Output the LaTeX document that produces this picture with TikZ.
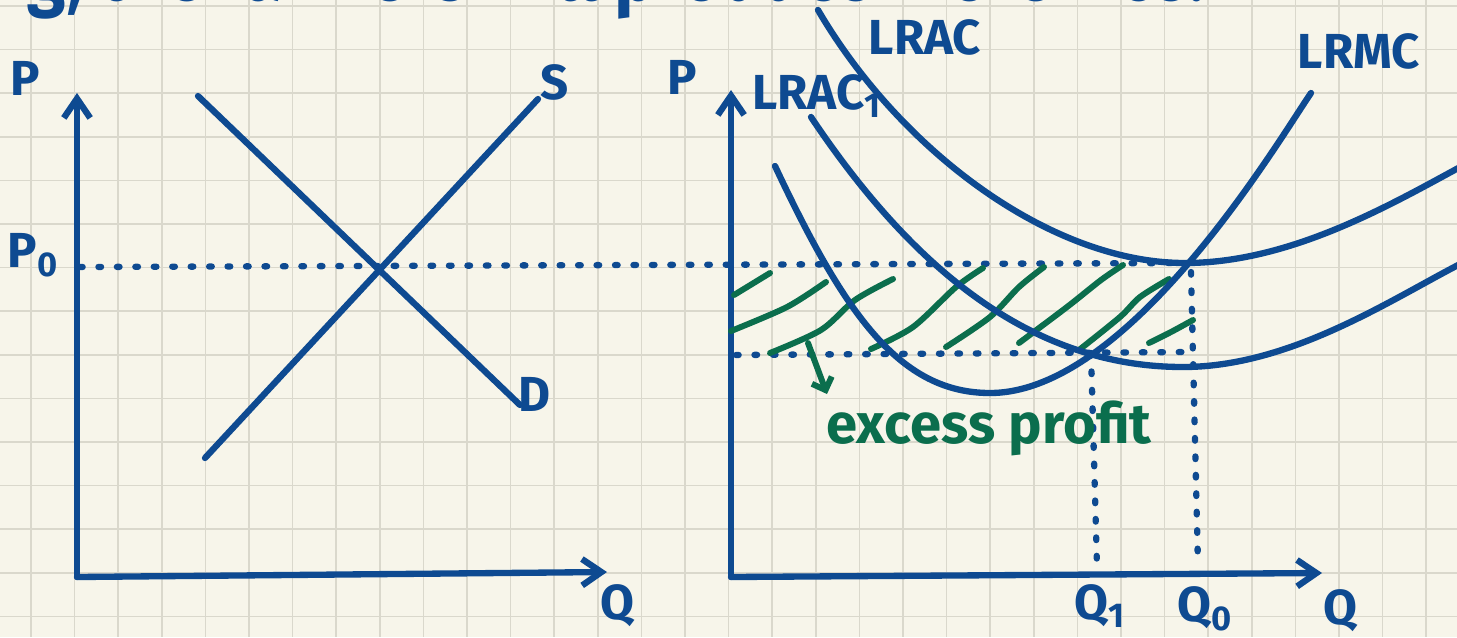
\documentclass[tikz,border=0pt]{standalone}
\usepackage{fontspec}
\setmainfont{Fira Sans}
\usetikzlibrary{arrows.meta}
\definecolor{paper}{HTML}{F7F5EA}
\definecolor{gridc}{HTML}{DAD8CC}
\definecolor{ink}{HTML}{0E4A91}
\definecolor{grn}{HTML}{0B6E4D}
\tikzset{
  bl/.style={draw=ink, line width=3.6pt, line cap=round, line join=round},
  gr/.style={draw=grn, line width=3.4pt, line cap=round, line join=round},
  dotln/.style={draw=ink, line width=3.6pt, line cap=round, dash pattern=on 1.5pt off 9pt},
  gridln/.style={draw=gridc, line width=0.9pt},
  lbl/.style={text=ink, font=\fontsize{28}{28}\selectfont\bfseries, inner sep=0pt},
  axarrow/.style={bl, -{Straight Barb[length=11pt,width=15pt]}},
}
\begin{document}
\begin{tikzpicture}[x=0.02cm, y=-0.02cm]
\useasboundingbox (0,0) rectangle (1457,637);
\clip (0,0) rectangle (1457,637);
\fill[paper] (0,0) rectangle (1457,637);
% grid
\foreach \k in {0,...,33} \draw[gridln] ({31+43.6*\k},0) -- ({31+43.6*\k},637);
\foreach \k in {0,...,14} \draw[gridln] (0,{6+43.6*\k}) -- (1457,{6+43.6*\k});
% top cut-off text
\node[anchor=base east, text=ink, font=\fontsize{48}{48}\selectfont\bfseries, inner sep=0pt] (toptext) at (1205,0) {\scalebox{0.825}[1]{ng, the farmers will produce more rice.}};
% ---- left graph ----
\coordinate (Lo) at (77,577);
\coordinate (Ltop) at (77,93);
\coordinate (Lright) at (607,572);
\draw[axarrow] (Lo) -- (Ltop);
\draw[axarrow] (Lo) -- (Lright);
\coordinate (D1) at (198,96);
\coordinate (D2) at (520,405);
\coordinate (S1) at (205,458);
\coordinate (S2) at (538,99);
\draw[bl] (D1) -- (D2);
\draw[bl] (S1) -- (S2);
\node[lbl] (lP) at (25,78) {P};
\node[lbl] (lP0) at (33,255) {P\textsubscript{0}};
\node[lbl] (lS) at (555,82) {S};
\node[lbl] (lD) at (535,394) {D};
\node[lbl] (lQ) at (617,606) {Q};
% ---- right graph ----
\coordinate (Ro) at (731,577);
\coordinate (Rtop) at (731,90);
\coordinate (Rright) at (1322,573);
\draw[axarrow] (Ro) -- (Rtop);
\draw[axarrow] (Ro) -- (Rright);
\coordinate (E0) at (1188,263);
\coordinate (E1) at (1091,353);
% dotted guide lines
\draw[dotln] (80,267) -- (E0);
\draw[dotln] (736,355) -- (1190,352);
\draw[dotln] (E1) -- (1097,566);
\draw[dotln] (1191,272) -- (1198,566);
% green hatching
\draw[gr] plot[smooth] coordinates {(734,295) (752,284) (770,273)};
\draw[gr] plot[smooth] coordinates {(731,331) (787,307) (826,282)};
\draw[gr] plot[smooth] coordinates {(770,353) (821,330) (855,300) (893,279)};
\draw[gr] plot[smooth] coordinates {(871,349) (913,327) (956,287) (983,268)};
\draw[gr] plot[smooth] coordinates {(946,347) (990,317) (1019,287) (1044,267)};
\draw[gr] plot[smooth] coordinates {(1019,343) (1067,307) (1101,280) (1123,265)};
\draw[gr] plot[smooth] coordinates {(1079,350) (1120,317) (1140,297) (1169,279)};
\draw[gr] plot[smooth] coordinates {(1149,343) (1171,332) (1193,320)};
\coordinate (ga1) at (808,343);
\coordinate (ga2) at (827,394);
\draw[gr, -{Straight Barb[length=6pt,width=12pt]}] (ga1) -- (ga2);
% curves
% LRAC
\draw[bl] (818,10) .. controls (900,150) and (1050,263) .. (1185,263)
                   .. controls (1290,263) and (1390,205) .. (1462,166);
% LRAC1
\draw[bl] (811,117) .. controls (920,280) and (1040,367) .. (1183,367)
                    .. controls (1290,367) and (1390,300) .. (1462,263);
% LRMC
\draw[bl] (775,166) .. controls (845,315) and (900,393) .. (990,393)
                    .. controls (1130,393) and (1280,138) .. (1311,93);
% labels
\node[lbl] (rP) at (682,77) {P};
\node[lbl, anchor=west] (lrac1) at (752,96) {LRAC\textsubscript{1}};
\node[lbl] (lrac) at (925,37) {LRAC};
\node[lbl] (lrmc) at (1359,51) {LRMC};
\node[lbl] (q1) at (1100,606) {Q\textsubscript{1}};
\node[lbl] (q0) at (1205,609) {Q\textsubscript{0}};
\node[lbl] (rQ) at (1340,611) {Q};
\node[anchor=base west, text=grn, font=\fontsize{32}{32}\selectfont\bfseries, inner sep=0pt] (excess) at (826,443) {excess profit};
\end{tikzpicture}
\end{document}
